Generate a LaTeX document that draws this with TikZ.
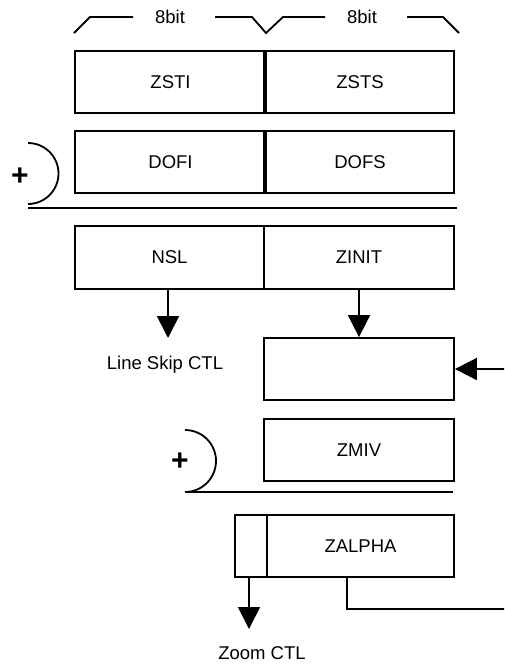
\documentclass[tikz,border=0pt]{standalone}
\usepackage{fontspec}
\setmainfont{Liberation Sans}
\usetikzlibrary{arrows.meta}
\begin{document}
\begin{tikzpicture}[x=1pt,y=-1pt,
  line width=1.8pt,
  reg/.style={draw, rectangle, inner sep=0pt, minimum height=62pt, font=\fontsize{18.5}{20}\selectfont},
  lbl/.style={inner sep=0pt, font=\fontsize{18.5}{20}\selectfont},
  plus/.style={inner sep=0pt, font=\fontsize{30}{32}\selectfont\bfseries},
  arr/.style={-{Triangle[width=22pt,length=22pt]}}]
\useasboundingbox (0,0) rectangle (504,664);
\clip (0,0) rectangle (504,664);
% bracket
\node[lbl] (b1) at (170,17) {8bit};
\node[lbl] (b2) at (362,17) {8bit};
\draw (74,33) -- (90,17) -- (133,17);
\draw (215,17) -- (252,17) -- (266,33) -- (283,17) -- (325,17);
\draw (407,17) -- (443,17) -- (459,33);
% top registers
\node[reg, minimum width=191pt] (zsti) at (170.5,82) {ZSTI};
\node[reg, minimum width=188pt] (zsts) at (360,82) {ZSTS};
\draw[line width=4pt] (zsts.north west) -- (zsts.south west);
\node[reg, minimum width=191pt] (dofi) at (170.5,162) {DOFI};
\node[reg, minimum width=188pt] (dofs) at (360,162) {DOFS};
\draw[line width=4pt] (dofs.north west) -- (dofs.south west);
% adder 1
\node[plus] (p1) at (20,177) {+};
\draw (28,143) arc[start angle=90, end angle=-90, radius=30.5pt];
\draw (28,208) -- (457,208);
% NSL / ZINIT
\node[reg, minimum width=189pt, minimum height=63pt] (nsl) at (169.5,257.5) {NSL};
\node[reg, minimum width=190pt, minimum height=63pt] (zinit) at (359,257.5) {ZINIT};
\coordinate (lsk) at (168,338);
\draw[arr] (168,289) -- (lsk);
\node[lbl] (lsctl) at (165,365) {Line Skip CTL};
% empty box
\node[reg, minimum width=190pt] (zb) at (359,369) {};
\draw[arr] (zinit.south) -- (zb.north);
% ZMIV
\node[reg, minimum width=190pt] (zmiv) at (359,450) {ZMIV};
\node[plus] (p2) at (180,462) {+};
\draw (185,430) arc[start angle=90, end angle=-90, radius=31pt];
\draw (185,492) -- (453,492);
% ZALPHA
\node[reg, minimum width=32pt] (zas) at (251,546) {};
\node[reg, minimum width=187pt] (za) at (360.5,546) {ZALPHA};
\coordinate (zc) at (249,629);
\draw[arr] (249,577) -- (zc);
\node[lbl] (zctl) at (262,653) {Zoom CTL};
% feedback
\coordinate (fb) at (512,609);
\draw[arr] ([xshift=-13.5pt]za.south) |- (fb) |- (zb.east);
\end{tikzpicture}
\end{document}
